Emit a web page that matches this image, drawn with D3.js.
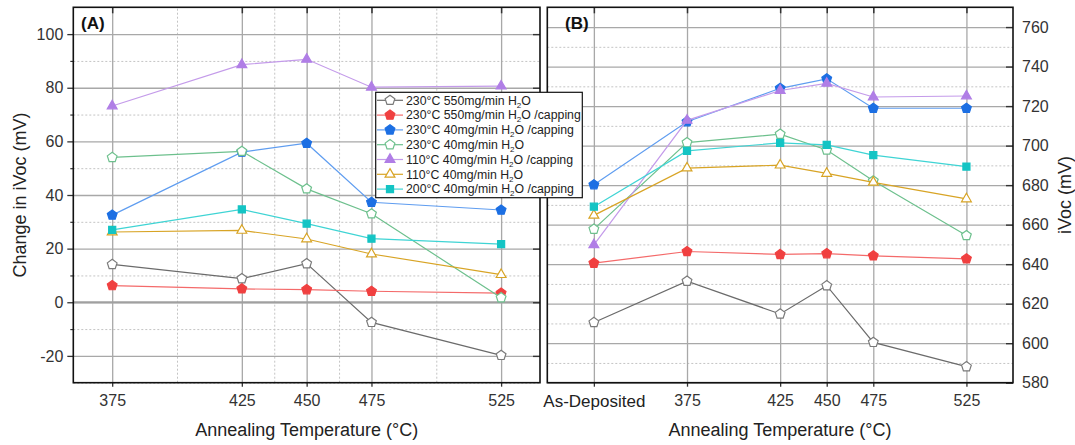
<!DOCTYPE html>
<html>
<head>
<meta charset="utf-8">
<script src="https://cdn.jsdelivr.net/npm/d3@7"></script>
<style>
  html, body { margin: 0; padding: 0; background: #fff; }
  svg { display: block; font-family: "Liberation Sans", Arial, sans-serif; }
</style>
</head>
<body>
<svg id="chart" width="1075" height="445"></svg>
<script>
// Annealing temperatures (°C)
const tempsA = [375, 425, 450, 475, 525];
const tempsB = ["As-Deposited", 375, 425, 450, 475, 525];

// Series names (split around the H2O subscript)
const seriesNames = [
  ["230°C 550mg/min H", "O"],
  ["230°C 550mg/min H", "O /capping"],
  ["230°C 40mg/min H", "O /capping"],
  ["230°C 40mg/min H", "O"],
  ["110°C 40mg/min H", "O /capping"],
  ["110°C 40mg/min H", "O"],
  ["200°C 40mg/min H", "O /capping"]
];

// (A) change in iVoc after annealing (mV)
const deltaA_230_550 = [14.1, 8.8, 14.4, -7.5, -19.8];
const deltaA_230_550_cap = [6.2, 5.0, 4.7, 4.1, 3.4];
const deltaA_230_40_cap = [32.5, 56.0, 59.3, 37.3, 34.4];
const deltaA_230_40 = [54.0, 56.3, 42.3, 33.0, 1.7];
const deltaA_110_40_cap = [73.2, 88.6, 90.6, 80.2, 80.6];
const deltaA_110_40 = [26.2, 26.8, 23.6, 18.0, 10.3];
const deltaA_200_40_cap = [27.0, 34.6, 29.3, 23.7, 21.7];

// (B) iVoc, as-deposited and after annealing (mV)
const ivocB_230_550 = [610.5, 631.4, 614.8, 629.1, 600.4, 588.1];
const ivocB_230_550_cap = [640.5, 646.4, 644.9, 645.3, 644.2, 642.7];
const ivocB_230_40_cap = [680.2, 712.1, 729.0, 733.8, 718.9, 718.9];
const ivocB_230_40 = [657.7, 701.5, 705.8, 697.8, 682.2, 654.5];
const ivocB_110_40_cap = [649.8, 712.8, 727.9, 731.5, 724.6, 725.1];
const ivocB_110_40 = [664.7, 688.6, 690.1, 685.9, 681.4, 673.0];
const ivocB_200_40_cap = [669.1, 697.3, 701.4, 700.4, 695.2, 689.4];

// Tick labels
const yTicksA = [-20, 0, 20, 40, 60, 80, 100];
const yMinorA = [-30, -10, 10, 30, 50, 70, 90];
const yTicksB = [580, 600, 620, 640, 660, 680, 700, 720, 740, 760];
const yMinorB = [590, 610, 630, 650, 670, 690, 710, 730, 750];

// ---- drawing ----
const svg = d3.select("#chart");
const FONT = "'Liberation Sans', Arial, sans-serif";

// pentagon symbol, point up
const symbolPentagon = {
  draw(ctx, size) {
    const r = Math.sqrt(size / (2.5 * Math.sin(2 * Math.PI / 5)));
    for (let i = 0; i < 5; i++) {
      const a = -Math.PI / 2 + i * 2 * Math.PI / 5;
      const x = r * Math.cos(a), y = r * Math.sin(a);
      if (i === 0) ctx.moveTo(x, y); else ctx.lineTo(x, y);
    }
    ctx.closePath();
  }
};

const styles = [
  { line: "#6b6b6b", stroke: "#7a7a7a", fill: "#ffffff", sym: symbolPentagon, size: 62 },
  { line: "#f46a6a", stroke: "#f04040", fill: "#f04040", sym: symbolPentagon, size: 62 },
  { line: "#5f9df0", stroke: "#1c6fe3", fill: "#1c6fe3", sym: symbolPentagon, size: 62 },
  { line: "#6dc08d", stroke: "#6dc08d", fill: "#ffffff", sym: symbolPentagon, size: 62 },
  { line: "#c49bea", stroke: "#b07ee6", fill: "#b07ee6", sym: d3.symbolTriangle, size: 42 },
  { line: "#d8a425", stroke: "#d8a425", fill: "#ffffff", sym: d3.symbolTriangle, size: 42 },
  { line: "#3fd4d4", stroke: "#14c4c4", fill: "#14c4c4", sym: d3.symbolSquare, size: 50 }
];

const seriesA = [deltaA_230_550, deltaA_230_550_cap, deltaA_230_40_cap, deltaA_230_40,
                 deltaA_110_40_cap, deltaA_110_40, deltaA_200_40_cap];
const seriesB = [ivocB_230_550, ivocB_230_550_cap, ivocB_230_40_cap, ivocB_230_40,
                 ivocB_110_40_cap, ivocB_110_40, ivocB_200_40_cap];

const plotTop = 7.3, plotBottom = 382.7;
const boxA = { left: 73.3, right: 540 };
const boxB = { left: 547.3, right: 1013 };

const xA = d3.scaleLinear().domain([360, 540]).range([boxA.left, boxA.right]);
const yA = d3.scaleLinear().domain([-30, 110]).range([plotBottom, plotTop]);
// "As-Deposited" sits one 50 °C step before 375
const asDepositedAt = 325;
const posB = t => (t === "As-Deposited" ? asDepositedAt : t);
const xB = d3.scaleLinear().domain([300, 550]).range([boxB.left, boxB.right]);
const yB = d3.scaleLinear().domain([580, 770]).range([plotBottom, plotTop]);

// axis used only for its tick lines
function tickLines(g, axis, stroke, width, dash) {
  g.call(axis);
  g.select(".domain").remove();
  g.selectAll("text").remove();
  const l = g.selectAll("line").attr("stroke", stroke).attr("stroke-width", width);
  if (dash) l.attr("stroke-dasharray", dash);
  return g;
}

function styleLabels(g) {
  g.select(".domain").remove();
  g.selectAll("text").attr("font-size", 16).attr("fill", "#333").attr("font-family", FONT);
}

function drawPanel(x, y, box, xTickVals, xMinor, yMajor, yMinor, fmtX) {
  const w = box.right - box.left, h = plotBottom - plotTop;
  const root = svg.append("g");
  const atBottom = () => root.append("g").attr("transform", `translate(0,${plotBottom})`);
  const atLeft = () => root.append("g").attr("transform", `translate(${box.left},0)`);

  // minor dotted gridlines
  if (xMinor.length) {
    tickLines(atBottom(), d3.axisBottom(x).tickValues(xMinor).tickSize(-h).tickFormat(""),
      "#c4c4c4", 1, "2,2");
  }
  tickLines(atLeft(), d3.axisLeft(y).tickValues(yMinor).tickSize(-w).tickFormat(""),
    "#c4c4c4", 1, "2,2");

  // major solid gridlines
  tickLines(atLeft(), d3.axisLeft(y).tickValues(yMajor).tickSize(-w).tickFormat(""), "#a8a8a8", 1.3);
  tickLines(atBottom(), d3.axisBottom(x).tickValues(xTickVals).tickSize(-h).tickFormat(""), "#a8a8a8", 1.3);

  // short ticks inside the top edge, outside the bottom edge
  tickLines(root.append("g").attr("transform", `translate(0,${plotTop})`),
    d3.axisTop(x).tickValues(xTickVals).tickSize(-6).tickFormat(""), "#333", 1.5);
  tickLines(atBottom(), d3.axisBottom(x).tickValues(xTickVals).tickSize(4).tickFormat(""), "#333", 1.3);

  // bottom tick labels
  const bx = atBottom()
    .call(d3.axisBottom(x).tickValues(xTickVals).tickSize(0).tickPadding(12).tickFormat(fmtX));
  styleLabels(bx);
  return root;
}

const hyphenFmt = d => String(d);

// Panel A
const pA = drawPanel(xA, yA, boxA, tempsA, [400, 437.5, 462.5, 500], yTicksA, yMinorA, hyphenFmt);
// zero line slightly heavier
pA.append("line").attr("x1", boxA.left).attr("x2", boxA.right)
  .attr("y1", yA(0)).attr("y2", yA(0)).attr("stroke", "#a0a0a0").attr("stroke-width", 2);

const ayA = pA.append("g").attr("transform", `translate(${boxA.left},0)`)
  .call(d3.axisLeft(yA).tickValues(yTicksA).tickSize(6).tickPadding(4).tickFormat(hyphenFmt));
styleLabels(ayA);
ayA.selectAll("line").attr("stroke", "#333").attr("stroke-width", 1.3);
tickLines(pA.append("g").attr("transform", `translate(${boxA.left},0)`),
  d3.axisLeft(yA).tickValues(yMinorA.filter(v => v > -30)).tickSize(3).tickFormat(""), "#333", 1.2);
// inward ticks on the right edge of A
tickLines(pA.append("g").attr("transform", `translate(${boxA.right},0)`),
  d3.axisRight(yA).tickValues(yTicksA).tickSize(-7).tickFormat(""), "#333", 1.4);

// Panel B
const pB = drawPanel(xB, yB, boxB, tempsB.map(posB), [], yTicksB, yMinorB,
  d => (d === asDepositedAt ? "As-Deposited" : String(d)));
pB.selectAll("text").filter(function () { return this.textContent === "As-Deposited"; })
  .attr("font-size", 17).attr("fill", "#222");

const ayB = pB.append("g").attr("transform", `translate(${boxB.right},0)`)
  .call(d3.axisRight(yB).tickValues(yTicksB).tickSize(0).tickPadding(9).tickFormat(hyphenFmt));
styleLabels(ayB);
tickLines(pB.append("g").attr("transform", `translate(${boxB.right},0)`),
  d3.axisRight(yB).tickValues(yTicksB).tickSize(-7).tickFormat(""), "#333", 1.4);

// series
function drawSeries(g, xs, ys, x, y) {
  ys.forEach((vals, i) => {
    const st = styles[i];
    const pts = vals.map((v, j) => [x(xs[j]), y(v)]);
    g.append("path").attr("d", d3.line()(pts))
      .attr("fill", "none").attr("stroke", st.line).attr("stroke-width", 1.2);
    g.selectAll(null).data(pts).enter().append("path")
      .attr("transform", p => `translate(${p[0]},${p[1]})`)
      .attr("d", d3.symbol(st.sym, st.size))
      .attr("fill", st.fill).attr("stroke", st.stroke).attr("stroke-width", 1.2);
  });
}
drawSeries(pA.append("g"), tempsA, seriesA, xA, yA);
drawSeries(pB.append("g"), tempsB.map(posB), seriesB, xB, yB);

// frames
[boxA, boxB].forEach(b => {
  svg.append("rect").attr("x", b.left).attr("y", plotTop)
    .attr("width", b.right - b.left).attr("height", plotBottom - plotTop)
    .attr("fill", "none").attr("stroke", "#111").attr("stroke-width", 1.6);
});

// panel tags
svg.append("text").attr("x", 81).attr("y", 29).text("(A)")
  .attr("font-size", 17).attr("font-weight", "bold").attr("fill", "#111");
svg.append("text").attr("x", 565).attr("y", 29).text("(B)")
  .attr("font-size", 17).attr("font-weight", "bold").attr("fill", "#111");

// axis titles
const titleFont = 18;
svg.append("text").attr("x", (boxA.left + boxA.right) / 2).attr("y", 436)
  .attr("text-anchor", "middle").attr("font-size", titleFont).attr("fill", "#222")
  .text("Annealing Temperature (°C)");
svg.append("text").attr("x", 780).attr("y", 436)
  .attr("text-anchor", "middle").attr("font-size", titleFont).attr("fill", "#222")
  .text("Annealing Temperature (°C)");
svg.append("text").attr("transform", "translate(26,195) rotate(-90)")
  .attr("text-anchor", "middle").attr("font-size", titleFont).attr("fill", "#222")
  .text("Change in iVoc (mV)");
svg.append("text").attr("transform", "translate(1071,195) rotate(-90)")
  .attr("text-anchor", "middle").attr("font-size", titleFont).attr("fill", "#222")
  .text("iVoc (mV)");

// legend
const lg = svg.append("g");
lg.append("rect").attr("x", 375.7).attr("y", 92.3).attr("width", 206.6).attr("height", 105.4)
  .attr("fill", "#fff").attr("stroke", "#111").attr("stroke-width", 1.2);
seriesNames.forEach((nm, i) => {
  const st = styles[i];
  const cy = 100.3 + i * 14.8;
  lg.append("line").attr("x1", 377).attr("x2", 403).attr("y1", cy).attr("y2", cy)
    .attr("stroke", st.line).attr("stroke-width", 1.2);
  lg.append("path").attr("transform", `translate(390,${cy})`)
    .attr("d", d3.symbol(st.sym, st.size))
    .attr("fill", st.fill).attr("stroke", st.stroke).attr("stroke-width", 1.2);
  const t = lg.append("text").attr("x", 406).attr("y", cy + 4.3)
    .attr("font-size", 12.3).attr("fill", "#222");
  t.append("tspan").text(nm[0]);
  t.append("tspan").attr("font-size", 8).attr("dy", 3).text("2");
  t.append("tspan").attr("dy", -3).text(nm[1]);
});
</script>
</body>
</html>
